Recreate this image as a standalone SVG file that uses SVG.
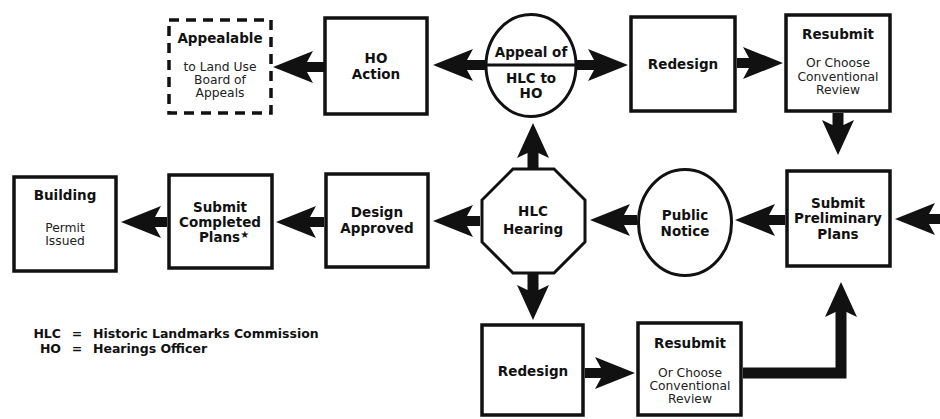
<svg xmlns="http://www.w3.org/2000/svg" width="940" height="419" viewBox="0 0 940 419">
<style>
.box{fill:#fff;stroke:#111;stroke-width:3.5}
.dash{fill:#fff;stroke:#111;stroke-width:3.5;stroke-dasharray:10 7}
.shape{fill:#fff;stroke:#111;stroke-width:3}
.t{font-family:"DejaVu Sans",Verdana,sans-serif;font-weight:bold;font-size:13.5px;fill:#111;text-anchor:middle}
.s{font-family:"DejaVu Sans",Verdana,sans-serif;font-size:12.3px;fill:#222;text-anchor:middle}
.lg{font-family:"DejaVu Sans",Verdana,sans-serif;font-weight:bold;font-size:12.5px;fill:#111}
.c{fill:none;stroke:#111;stroke-width:10}
.cv{fill:none;stroke:#111;stroke-width:11}
</style>
<defs>
<marker id="ah" markerUnits="userSpaceOnUse" viewBox="0 -17 42 34" markerWidth="42" markerHeight="34" refX="6" refY="0" orient="auto">
<path d="M0,-16 L40,0 L0,16 L6,5 L6,-5 Z" fill="#111"/>
</marker>
<marker id="ahs" markerUnits="userSpaceOnUse" viewBox="0 -17 37 34" markerWidth="37" markerHeight="34" refX="5" refY="0" orient="auto">
<path d="M0,-16 L35,0 L0,16 L5,5.5 L5,-5.5 Z" fill="#111"/>
</marker>
</defs>
<rect width="940" height="419" fill="#fff"/>

<g id="connectors">
<line class="c" x1="324" y1="67" x2="307" y2="67" marker-end="url(#ah)"/>
<line class="c" x1="486" y1="65" x2="467" y2="65" marker-end="url(#ah)"/>
<line class="c" x1="577" y1="65" x2="594" y2="65" marker-end="url(#ah)"/>
<line class="c" x1="737" y1="63" x2="749" y2="63" marker-end="url(#ah)"/>
<line class="cv" x1="838" y1="113" x2="838" y2="125" marker-end="url(#ahs)"/>
<line class="c" x1="942" y1="219" x2="929" y2="219" marker-end="url(#ah)"/>
<line class="c" x1="785" y1="220" x2="769" y2="220" marker-end="url(#ah)"/>
<line class="c" x1="637" y1="220" x2="624" y2="220" marker-end="url(#ah)"/>
<line class="c" x1="480" y1="221" x2="467" y2="221" marker-end="url(#ah)"/>
<line class="c" x1="324" y1="222" x2="310" y2="222" marker-end="url(#ah)"/>
<line class="c" x1="167" y1="222" x2="155" y2="222" marker-end="url(#ah)"/>
<line class="cv" x1="533" y1="169" x2="533" y2="153" marker-end="url(#ahs)"/>
<line class="cv" x1="533" y1="273" x2="533" y2="290" marker-end="url(#ahs)"/>
<line class="c" x1="585" y1="373" x2="601" y2="373" marker-end="url(#ah)"/>
<polyline class="cv" points="743,373 841,373 841,312" stroke-linejoin="miter" marker-end="url(#ahs)"/>
</g>

<g id="appealable">
<rect class="dash" x="169" y="20" width="102" height="93"/>
<text class="t" x="220" y="43">Appealable</text>
<text class="s" x="220" y="71">to Land Use</text>
<text class="s" x="220" y="84">Board of</text>
<text class="s" x="220" y="97">Appeals</text>
</g>

<g id="ho-action">
<rect class="box" x="325" y="18" width="102" height="96"/>
<text class="t" x="376" y="63">HO</text>
<text class="t" x="376" y="79">Action</text>
</g>

<g id="appeal">
<ellipse class="shape" cx="531" cy="65.5" rx="45" ry="51"/>
<line x1="486" y1="65" x2="576" y2="65" stroke="#111" stroke-width="3"/>
<text class="t" x="531" y="57">Appeal of</text>
<text class="t" x="531" y="83">HLC to</text>
<text class="t" x="531" y="98">HO</text>
</g>

<g id="redesign-top">
<rect class="box" x="631" y="17" width="104" height="94"/>
<text class="t" x="683" y="69">Redesign</text>
</g>

<g id="resubmit-top">
<rect class="box" x="786" y="15" width="104" height="96"/>
<text class="t" x="838" y="39">Resubmit</text>
<text class="s" x="838" y="67">Or Choose</text>
<text class="s" x="838" y="81">Conventional</text>
<text class="s" x="838" y="94">Review</text>
</g>

<g id="building">
<rect class="box" x="14" y="177" width="102" height="94"/>
<text class="t" x="65" y="200">Building</text>
<text class="s" x="65" y="232">Permit</text>
<text class="s" x="65" y="245">Issued</text>
</g>

<g id="submit-completed">
<rect class="box" x="169" y="175" width="103" height="93"/>
<text class="t" x="220" y="212">Submit</text>
<text class="t" x="220" y="227">Completed</text>
<text class="t" x="224" y="242">Plans<tspan font-size="10" dy="-4">★</tspan></text>
</g>

<g id="design-approved">
<rect class="box" x="326" y="174" width="102" height="93"/>
<text class="t" x="377" y="217">Design</text>
<text class="t" x="377" y="233">Approved</text>
</g>

<g id="hlc-hearing">
<polygon class="shape" points="513,169 554,169 585,200 585,242 554,273 513,273 482,242 482,200"/>
<text class="t" x="533" y="216">HLC</text>
<text class="t" x="533" y="234">Hearing</text>
</g>

<g id="public-notice">
<ellipse class="shape" cx="685" cy="222.5" rx="46.5" ry="53"/>
<text class="t" x="685" y="220">Public</text>
<text class="t" x="685" y="236">Notice</text>
</g>

<g id="submit-preliminary">
<rect class="box" x="787" y="171" width="103" height="95"/>
<text class="t" x="838" y="208">Submit</text>
<text class="t" x="838" y="223">Preliminary</text>
<text class="t" x="838" y="239">Plans</text>
</g>

<g id="redesign-bottom">
<rect class="box" x="482" y="325" width="101" height="90"/>
<text class="t" x="533" y="376">Redesign</text>
</g>

<g id="resubmit-bottom">
<rect class="box" x="638" y="323" width="103" height="92"/>
<text class="t" x="690" y="348">Resubmit</text>
<text class="s" x="690" y="377">Or Choose</text>
<text class="s" x="690" y="390">Conventional</text>
<text class="s" x="690" y="403">Review</text>
</g>

<g id="legend">
<text class="lg" x="61" y="338" text-anchor="end">HLC</text>
<text class="lg" x="77" y="338" text-anchor="middle">=</text>
<text class="lg" x="93" y="338">Historic Landmarks Commission</text>
<text class="lg" x="61" y="353" text-anchor="end">HO</text>
<text class="lg" x="77" y="353" text-anchor="middle">=</text>
<text class="lg" x="93" y="353">Hearings Officer</text>
</g>
</svg>
